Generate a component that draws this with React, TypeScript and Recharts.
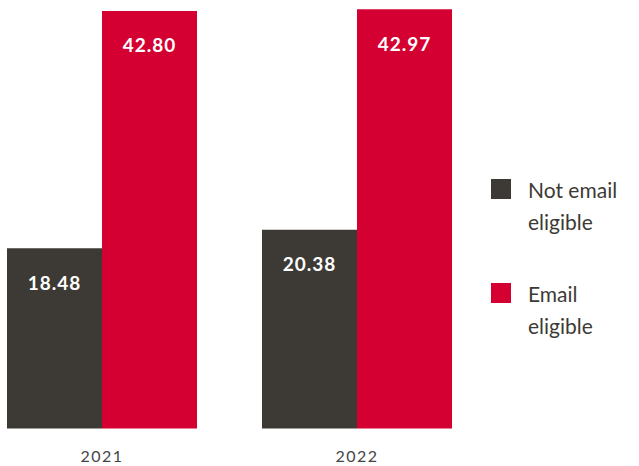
import { BarChart, Bar, XAxis, YAxis, Legend, LabelList } from 'recharts';

const years = ['2021', '2022'];
const notEmailEligible = [18.48, 20.38];
const emailEligible = [42.8, 42.97];
const seriesNames = ['Not email eligible', 'Email eligible'];

const DARK = '#3d3a35';
const RED = '#d50032';
const FONT = 'Lato, "Open Sans", sans-serif';

const data = years.map((year, i) => ({
  year,
  notEmail: notEmailEligible[i],
  email: emailEligible[i],
}));

const BarLabel = (props: any) => {
  const { x, y, width, value } = props;
  return (
    <text
      x={x + width / 2}
      y={y + 34}
      fill="#fff"
      textAnchor="middle"
      dominantBaseline="central"
      fontFamily={FONT}
      fontWeight={700}
      fontSize={19}
      letterSpacing={1}
    >
      {Number(value).toFixed(2)}
    </text>
  );
};

const YearTick = (props: any) => {
  const { x, y, payload } = props;
  return (
    <text
      x={x}
      y={y + 33.5}
      fill="#444"
      textAnchor="middle"
      fontFamily={FONT}
      fontSize={16}
      letterSpacing={1.5}
    >
      {payload.value}
    </text>
  );
};

const LegendBox = () => (
  <div style={{ fontFamily: FONT, fontSize: 21, lineHeight: '32px', color: DARK }}>
    {seriesNames.map((name, i) => (
      <div key={name} style={{ position: 'relative', paddingLeft: 37, marginBottom: 40, width: 110 }}>
        <span
          style={{
            position: 'absolute',
            left: 0,
            top: 5,
            width: 20,
            height: 20,
            background: i === 0 ? DARK : RED,
          }}
        />
        {name}
      </div>
    ))}
  </div>
);

export default function App() {
  return (
    <div style={{ position: 'absolute', left: 0, top: 0, background: '#fff' }}>
      <BarChart
        width={639}
        height={466}
        data={data}
        margin={{ top: 9, right: 154.5, left: -25.5, bottom: 7.5 }}
        barCategoryGap={32.5}
        barGap={0}
      >
        <XAxis
          dataKey="year"
          axisLine={false}
          tickLine={false}
          tickSize={0}
          tickMargin={0}
          height={30}
          tick={<YearTick />}
        />
        <YAxis hide domain={[0, 43]} />
        <Legend
          layout="horizontal"
          verticalAlign="middle"
          align="center"
          content={<LegendBox />}
          wrapperStyle={{ left: 491, top: 174, width: 150 }}
        />
        <Bar dataKey="notEmail" name={seriesNames[0]} fill={DARK} isAnimationActive={false}>
          <LabelList dataKey="notEmail" content={<BarLabel />} />
        </Bar>
        <Bar dataKey="email" name={seriesNames[1]} fill={RED} isAnimationActive={false}>
          <LabelList dataKey="email" content={<BarLabel />} />
        </Bar>
      </BarChart>
    </div>
  );
}
